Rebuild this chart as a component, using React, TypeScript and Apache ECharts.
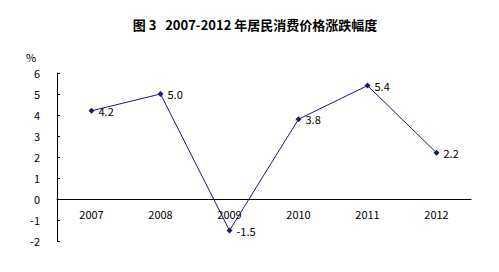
import React, { useEffect, useRef } from "react";
import * as echarts from "echarts";

const title = "图 3\u00a0\u00a0\u00a02007-2012 年居民消费价格涨跌幅度";
const categories = ["2007", "2008", "2009", "2010", "2011", "2012"];
const values = [4.2, 5.0, -1.5, 3.8, 5.4, 2.2];
const yUnit = "%";

export default function App() {
  const ref = useRef<HTMLDivElement>(null);
  useEffect(() => {
    const chart = echarts.init(ref.current!, null, { renderer: "svg" });
    const font = "'Noto Sans CJK SC', 'DejaVu Sans', sans-serif";
    chart.setOption({
      animation: false,
      backgroundColor: "#ffffff",
      title: {
        text: title,
        left: 250,
        textAlign: "center",
        top: 13,
        textStyle: { fontSize: 13, fontWeight: "bold", color: "#000", fontFamily: "'Noto Sans CJK SC', serif" },
      },
      graphic: [
        {
          type: "text",
          left: 26,
          top: 51,
          style: { text: yUnit, fontSize: 11, fill: "#000", fontFamily: font },
        },
      ],
      grid: { left: 57, top: 73, width: 414, height: 168 },
      xAxis: {
        type: "category",
        data: categories,
        boundaryGap: true,
        position: "bottom",
        offset: -42,
        axisLine: { onZero: false, lineStyle: { color: "#000", width: 1 } },
        axisTick: { inside: true, length: 4, alignWithLabel: false, lineStyle: { color: "#000" } },
        axisLabel: { color: "#000", fontSize: 11, margin: 9, fontFamily: font },
        splitLine: { show: false },
      },
      yAxis: {
        type: "value",
        min: -2,
        max: 6,
        interval: 1,
        axisLine: { show: true, onZero: false, lineStyle: { color: "#000", width: 1 } },
        axisTick: { show: true, inside: true, length: 3, lineStyle: { color: "#000" } },
        axisLabel: { color: "#000", fontSize: 11, margin: 17, fontFamily: font },
        splitLine: { show: false },
      },
      series: [
        {
          type: "line",
          data: values,
          symbol: "diamond",
          symbolSize: 6,
          lineStyle: { color: "#1a1a70", width: 1 },
          itemStyle: { color: "#1a1a70" },
          label: {
            show: true,
            position: "right",
            distance: 4,
            color: "#000",
            fontSize: 11,
            fontFamily: font,
            formatter: (p: any) => p.value.toFixed(1),
          },
        },
      ],
    });
    return () => chart.dispose();
  }, []);
  return (
    <div
      ref={ref}
      style={{ position: "fixed", left: 0, top: 0, width: 499, height: 272 }}
    />
  );
}
